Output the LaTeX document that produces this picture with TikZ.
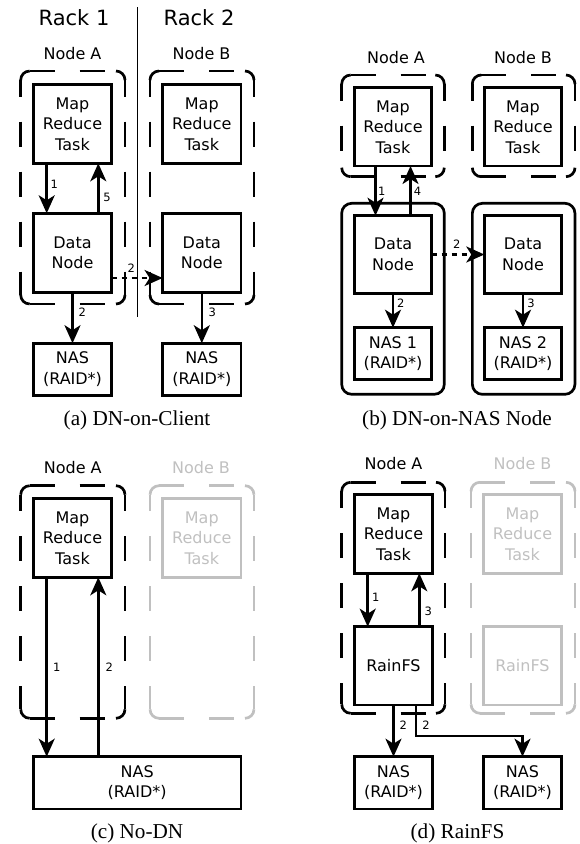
\documentclass[tikz,border=0pt]{standalone}
\usepackage{fontspec}
\newfontfamily\diagfont{DejaVu Sans}
\newfontfamily\capfont{Liberation Serif}
\usetikzlibrary{arrows.meta}
\definecolor{faded}{RGB}{192,192,192}

% rounded dashed frame: every side restarts its dash pattern, corners solid
% #1 options, #2 left, #3 top, #4 right, #5 bottom
\newcommand\grpbox[5][]{%
  \begin{scope}[line width=2.7pt,#1]
    \draw[rounded corners=9pt] (#2,#3+9) -- (#2,#3) -- (#2+9,#3);
    \draw[rounded corners=9pt] (#4-9,#3) -- (#4,#3) -- (#4,#3+9);
    \draw[rounded corners=9pt] (#4,#5-9) -- (#4,#5) -- (#4-9,#5);
    \draw[rounded corners=9pt] (#2+9,#5) -- (#2,#5) -- (#2,#5-9);
    \draw[dash pattern=on 25pt off 25pt] (#2+9,#3) -- (#4-9,#3);
    \draw[dash pattern=on 25pt off 25pt, dash phase=8.3pt] (#4,#3+9) -- (#4,#5-9);
    \draw[dash pattern=on 25pt off 25pt] (#2+9,#5) -- (#4-9,#5);
    \draw[dash pattern=on 25pt off 25pt, dash phase=8.3pt] (#2,#3+9) -- (#2,#5-9);
  \end{scope}}

\tikzset{
  box/.style={draw, line width=2.7pt, minimum width=78.4pt, minimum height=79pt,
    inner sep=0pt, outer sep=0pt, align=center,
    font=\diagfont\fontsize{16}{20.5}\selectfont},
  nasbox/.style={box, minimum height=52pt},
  hostbox/.style={draw, line width=2.7pt, rounded corners=10pt, inner sep=0pt,
    minimum width=102.6pt, minimum height=191pt},
  flow/.style={line width=2.5pt, -{Stealth[length=18pt,width=16pt,inset=5pt]}},
  copyflow/.style={flow, dash pattern=on 5pt off 5pt},
  num/.style={font=\diagfont\fontsize{11.5}{12}\selectfont, inner sep=0pt},
  title/.style={font=\diagfont\fontsize{16}{20}\selectfont, anchor=base, inner sep=0pt},
  rack/.style={font=\diagfont\fontsize{21}{24}\selectfont, anchor=base, inner sep=0pt},
  figcap/.style={font=\capfont\fontsize{21.2}{24}\selectfont, anchor=base, inner sep=0pt},
  faint/.style={draw=faded, text=faded},
}

\begin{document}
\begin{tikzpicture}[x=1pt,y=-1pt]
\useasboundingbox (0,0) rectangle (580,844);

% ---------------- (a) DN-on-Client ----------------
\node[rack] (rack1) at (74,25.7) {Rack 1};
\node[rack] (rack2) at (199,25.7) {Rack 2};
\draw[line width=1pt] (137,7) -- (137,317);
\node[title] (aNA) at (72.5,59.3) {Node A};
\node[title] (aNB) at (201.5,59.3) {Node B};
\grpbox{20.7}{71}{125}{304}
\grpbox{150}{71}{254}{304}
\node[box] (aMRA) at (72.5,123.8) {Map\\Reduce\\Task};
\node[box] (aMRB) at (201.8,123.8) {Map\\Reduce\\Task};
\node[box] (aDNA) at (72.5,252.8) {Data\\Node};
\node[box] (aDNB) at (201.8,252.8) {Data\\Node};
\node[nasbox] (aNASA) at (72.5,369.2) {NAS\\(RAID*)};
\node[nasbox] (aNASB) at (201.8,369.2) {NAS\\(RAID*)};
\draw[flow] ([xshift=-25.8pt]aMRA.south) -- ([xshift=-25.8pt]aDNA.north);
\draw[flow] ([xshift=25.8pt]aDNA.north) -- ([xshift=25.8pt]aMRA.south);
\draw[copyflow] ([yshift=-25.2pt]aDNA.east) -- ([yshift=-25.2pt]aDNB.west);
\draw[flow] (aDNA.south) -- (aNASA.north);
\draw[flow] (aDNB.south) -- (aNASB.north);
\node[num] (a1) at (54.2,184.2) {1};
\node[num] (a5) at (107,197.7) {5};
\node[num] (a2c) at (131.3,268.3) {2};
\node[num] (a2) at (82.3,312.3) {2};
\node[num] (a3) at (212.2,312.3) {3};
\node[figcap] (capa) at (137,425) {(a) DN-on-Client};

% ---------------- (b) DN-on-NAS Node ----------------
\node[title] (bNA) at (396,63.3) {Node A};
\node[title] (bNB) at (523,63.3) {Node B};
\grpbox{341.7}{75}{444.3}{176.7}
\grpbox{472.3}{75}{575}{176.7}
\node[box, minimum width=77.4pt, minimum height=78.3pt] (bMRA) at (393,126.85) {Map\\Reduce\\Task};
\node[box, minimum width=77.4pt, minimum height=78.3pt] (bMRB) at (523,126.85) {Map\\Reduce\\Task};
\node[hostbox] (bHostA) at (393,298.8) {};
\node[hostbox] (bHostB) at (523.65,298.8) {};
\node[box, minimum width=77.4pt, minimum height=77.6pt] (bDNA) at (393,254.5) {Data\\Node};
\node[box, minimum width=77.4pt, minimum height=77.6pt] (bDNB) at (523,254.5) {Data\\Node};
\node[nasbox, minimum width=77.4pt, minimum height=51.6pt] (bNAS1) at (393,353.5) {NAS 1\\(RAID*)};
\node[nasbox, minimum width=77.4pt, minimum height=51.6pt] (bNAS2) at (523,353.5) {NAS 2\\(RAID*)};
\draw[flow] ([xshift=-17.5pt]bMRA.south) -- ([xshift=-17.5pt]bDNA.north);
\draw[flow] ([xshift=17.5pt]bDNA.north) -- ([xshift=17.5pt]bMRA.south);
\draw[copyflow] (bDNA.east) -- (bDNB.west);
\draw[flow] (bDNA.south) -- (bNAS1.north);
\draw[flow] (bDNB.south) -- (bNAS2.north);
\node[num] (b1) at (381.7,191) {1};
\node[num] (b4) at (417.5,191) {4};
\node[num] (b2c) at (456.7,244.7) {2};
\node[num] (b2) at (400.8,303.3) {2};
\node[num] (b3) at (531,303.3) {3};
\node[figcap] (capb) at (457,425) {(b) DN-on-NAS Node};

% ---------------- (c) No-DN ----------------
\node[title] (cNA) at (72.8,473.3) {Node A};
\node[title, text=faded] (cNB) at (201,473.3) {Node B};
\grpbox{20.7}{485.7}{125}{718.3}
\grpbox[draw=faded]{150}{485.7}{254}{718.3}
\node[box] (cMRA) at (72.5,537.8) {Map\\Reduce\\Task};
\node[box, faint] (cMRB) at (201.8,537.8) {Map\\Reduce\\Task};
\node[nasbox, minimum width=207.7pt, minimum height=52.3pt] (cNAS) at (137.15,782.85) {NAS\\(RAID*)};
\draw[flow] ([xshift=-25.8pt]cMRA.south) -- ([xshift=-25.8pt]cMRA.south |- cNAS.north);
\draw[flow] ([xshift=25.8pt]cMRA.south |- cNAS.north) -- ([xshift=25.8pt]cMRA.south);
\node[num] (c1) at (56.7,667) {1};
\node[num] (c2) at (109.2,667) {2};
\node[figcap] (capc) at (137,838.5) {(c) No-DN};

% ---------------- (d) RainFS ----------------
\node[title] (dNA) at (393.5,469.5) {Node A};
\node[title, text=faded] (dNB) at (522.5,469.5) {Node B};
\grpbox{341.7}{482.3}{445}{713.3}
\grpbox[draw=faded]{471}{482.3}{575}{713.3}
\node[box] (dMRA) at (393.5,533.8) {Map\\Reduce\\Task};
\node[box, faint] (dMRB) at (522.5,533.8) {Map\\Reduce\\Task};
\node[box, minimum height=78.3pt] (dRainA) at (393.5,665.85) {RainFS};
\node[box, faint, minimum height=78.3pt] (dRainB) at (522.5,665.85) {RainFS};
\node[nasbox, minimum height=52.3pt] (dNASL) at (393.5,782.85) {NAS\\(RAID*)};
\node[nasbox, minimum height=52.3pt] (dNASR) at (522.5,782.85) {NAS\\(RAID*)};
\draw[flow] ([xshift=-25.8pt]dMRA.south) -- ([xshift=-25.8pt]dRainA.north);
\draw[flow] ([xshift=25.8pt]dRainA.north) -- ([xshift=25.8pt]dMRA.south);
\draw[flow] (dRainA.south) -- (dNASL.north);
\draw[flow] ([xshift=22.5pt]dRainA.south) -- ++(0,31) -| (dNASR.north);
\node[num] (d1) at (375.7,597.3) {1};
\node[num] (d3) at (428.3,611) {3};
\node[num] (d2l) at (403.3,725.3) {2};
\node[num] (d2r) at (426,725.3) {2};
\node[figcap] (capd) at (457.5,838.5) {(d) RainFS};
\end{tikzpicture}
\end{document}
